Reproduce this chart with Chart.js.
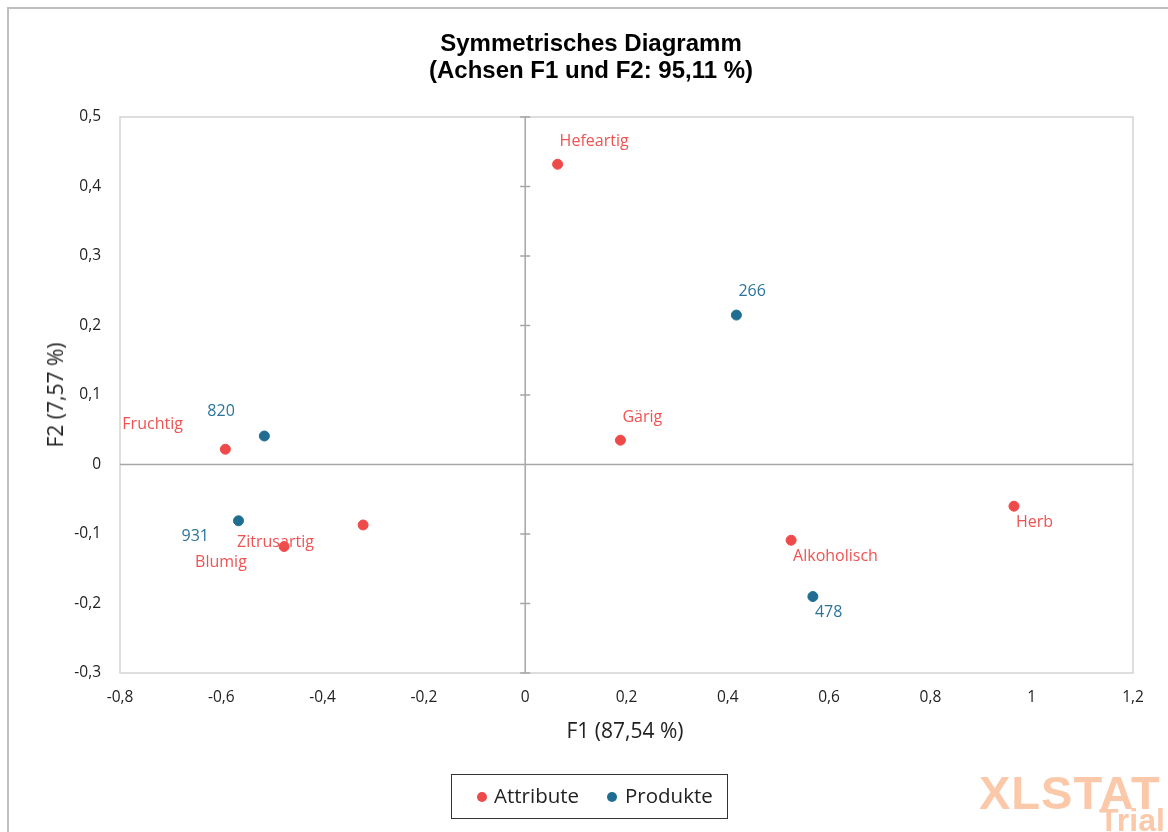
<!DOCTYPE html>
<html>
<head>
<meta charset="utf-8">
<script src="https://cdn.jsdelivr.net/npm/chart.js@4"></script>
<style>
  html, body { margin: 0; padding: 0; background: #fff; width: 1168px; height: 832px; overflow: hidden; }
  #frame { position: absolute; left: 7px; top: 7px; width: 1200px; height: 900px; border-left: 2px solid #bfbfbf; border-top: 2px solid #bfbfbf; }
  #wrap { position: absolute; left: 0; top: 0; width: 1168px; height: 832px; }
  .title { position: absolute; left: 0; width: 1182px; text-align: center; font-family: "Liberation Sans", Arial, sans-serif; font-weight: bold; font-size: 24px; line-height: 28px; color: #000; }
  .axt { position: absolute; font-family: "Open Sans", sans-serif; font-size: 21px; color: #222; white-space: nowrap; }
  #legend { position: absolute; left: 451px; top: 774px; width: 275px; height: 43px; border: 1.5px solid #333; font-family: "Open Sans", sans-serif; font-size: 20.5px; color: #222; }
  #legend span.dot { position: absolute; width: 10px; height: 10px; border-radius: 50%; top: 17px; }
  #legend span.txt { position: absolute; top: 6px; }
  .wm { position: absolute; font-family: "Liberation Sans", Arial, sans-serif; font-weight: bold; color: #fbc9a9; line-height: 1; }
</style>
</head>
<body>
<div id="frame"></div>
<div id="wrap"><canvas id="c" width="1168" height="832"></canvas></div>
<div class="title" style="top:29px;">Symmetrisches Diagramm</div>
<div class="title" style="top:56px;">(Achsen F1 und F2: 95,11 %)</div>
<div class="axt" style="left:625px; top:730px; transform: translate(-50%,-50%);">F1 (87,54 %)</div>
<div class="axt" style="left:55px; top:395px; transform: translate(-50%,-50%) rotate(-90deg);">F2 (7,57 %)</div>
<div id="legend">
  <span class="dot" style="left:25px; background:#ef4a4a;"></span><span class="txt" style="left:42px;">Attribute</span>
  <span class="dot" style="left:155px; background:#1f6e92;"></span><span class="txt" style="left:173px;">Produkte</span>
</div>
<div class="wm" style="left:979px; top:769px; font-size:47px; letter-spacing:1px;">XLSTAT</div>
<div class="wm" style="left:1099px; top:804px; font-size:32px;">Trial</div>
<script>
// ---- Data ----
const attrNames = ['Hefeartig', 'Gärig', 'Fruchtig', 'Zitrusartig', 'Blumig', 'Alkoholisch', 'Herb'];
const attrF1 = [0.064, 0.188, -0.592, -0.320, -0.476, 0.525, 0.965];
const attrF2 = [0.432, 0.035, 0.022, -0.087, -0.118, -0.109, -0.060];
const prodNames = ['266', '820', '931', '478'];
const prodF1 = [0.417, -0.515, -0.566, 0.568];
const prodF2 = [0.215, 0.041, -0.081, -0.190];
const xTickValues = [-0.8, -0.6, -0.4, -0.2, 0, 0.2, 0.4, 0.6, 0.8, 1, 1.2];
const yTickValues = [-0.3, -0.2, -0.1, 0, 0.1, 0.2, 0.3, 0.4, 0.5];

// label offsets (px) — styling only
const attrLabelOffsets = [[2,-23],[2,-23],[-103,-25],[-126,17],[-89,16],[2,16],[2,16]];
const prodLabelOffsets = [[2,-24],[-57,-25],[-57,16],[2,16]];

const RED = '#ef4a4a', BLUE = '#1f6e92';
const fmt = v => {
  const r = Math.round(v * 10) / 10;
  if (r === 0) return '0';
  if (Number.isInteger(r)) return String(r);
  return r.toFixed(1).replace('.', ',');
};

const attrData = attrF1.map((x, i) => ({ x, y: attrF2[i] }));
const prodData = prodF1.map((x, i) => ({ x, y: prodF2[i] }));

const decor = {
  id: 'decor',
  beforeDatasetsDraw(chart) {
    const { ctx, chartArea: a, scales: { x, y } } = chart;
    ctx.save();
    ctx.strokeStyle = '#d4d4d4';
    ctx.lineWidth = 1.5;
    ctx.strokeRect(a.left, a.top, a.right - a.left, a.bottom - a.top);
    const x0 = x.getPixelForValue(0), y0 = y.getPixelForValue(0);
    ctx.strokeStyle = '#a6a6a6';
    ctx.lineWidth = 1.5;
    ctx.beginPath();
    ctx.moveTo(x0, a.top); ctx.lineTo(x0, a.bottom);
    ctx.moveTo(a.left, y0); ctx.lineTo(a.right, y0);
    yTickValues.forEach(v => {
      const py = y.getPixelForValue(v);
      ctx.moveTo(x0 - 5, py); ctx.lineTo(x0 + 5, py);
    });
    ctx.stroke();
    ctx.restore();
  },
  afterDatasetsDraw(chart) {
    const { ctx } = chart;
    ctx.save();
    ctx.font = '16px "Open Sans", sans-serif';
    ctx.textAlign = 'left';
    ctx.textBaseline = 'middle';
    const drawLabels = (dsIndex, names, offs, color) => {
      const meta = chart.getDatasetMeta(dsIndex);
      ctx.fillStyle = color;
      meta.data.forEach((pt, i) => {
        ctx.fillText(names[i], pt.x + offs[i][0], pt.y + offs[i][1]);
      });
    };
    drawLabels(0, attrNames, attrLabelOffsets, '#f05252');
    drawLabels(1, prodNames, prodLabelOffsets, '#2a7399');
    ctx.restore();
  }
};

new Chart(document.getElementById('c'), {
  type: 'scatter',
  data: {
    datasets: [
      { label: 'Attribute', data: attrData, backgroundColor: RED, borderColor: RED, pointRadius: 5, pointHoverRadius: 5 },
      { label: 'Produkte', data: prodData, backgroundColor: BLUE, borderColor: BLUE, pointRadius: 5, pointHoverRadius: 5 }
    ]
  },
  options: {
    responsive: false,
    animation: false,
    events: [],
    layout: { padding: { left: 0, top: 117, right: 35, bottom: 0 } },
    plugins: { legend: { display: false }, title: { display: false }, tooltip: { enabled: false } },
    scales: {
      x: {
        type: 'linear', min: -0.8, max: 1.2,
        afterBuildTicks: s => { s.ticks = xTickValues.map(v => ({ value: v })); },
        afterFit: s => { s.height = 159; },
        grid: { display: false, drawTicks: false },
        border: { display: false },
        ticks: { callback: fmt, padding: 15, color: '#222', font: { family: 'Open Sans', size: 15.5 }, maxRotation: 0 }
      },
      y: {
        type: 'linear', min: -0.3, max: 0.5,
        afterBuildTicks: s => { s.ticks = yTickValues.map(v => ({ value: v })); },
        afterFit: s => { s.width = 120; },
        grid: { display: false, drawTicks: false },
        border: { display: false },
        ticks: { callback: fmt, padding: 19, color: '#222', font: { family: 'Open Sans', size: 15.5 } }
      }
    }
  },
  plugins: [decor]
});
</script>
</body>
</html>
